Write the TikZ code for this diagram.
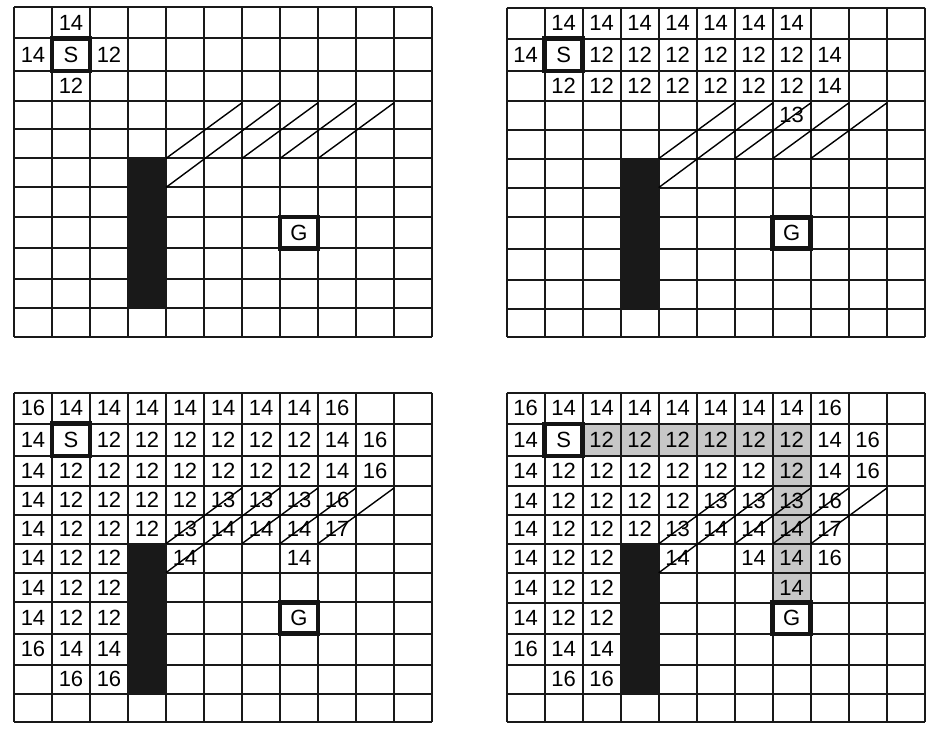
\documentclass[tikz,border=0pt]{standalone}
\usepackage{fontspec}
\setmainfont{Liberation Sans}
\usetikzlibrary{calc}
\def\RL{{0,31,63.4,93.4,122,151,180,209.7,241,272,301,329.4}}
\tikzset{
  gridline/.style={draw=black!90, line width=2pt},
  diagline/.style={draw=black, line width=1.4pt},
  endbox/.style={draw=black!92, line width=4.5pt},
  obst/.style={fill=black!90},
  pathcell/.style={fill=black!22},
  lbl/.style={inner sep=0pt, text=black, font=\fontsize{22}{25}\selectfont},
}
% define the corner and centre coordinates of one grid
\newcommand\setgrid[3]{%
  \begin{scope}[shift={(#2,#3)}]
    \foreach \r in {0,...,11}{%
      \pgfmathsetmacro\yy{\RL[\r]}%
      \foreach \c in {0,...,11}{\coordinate (#1-p\c-\r) at (\c*38,\yy);}%
    }
    \foreach \r in {0,...,10}{%
      \pgfmathtruncatemacro\rn{\r+1}%
      \pgfmathsetmacro\ya{\RL[\r]}%
      \pgfmathsetmacro\yb{\RL[\rn]}%
      \pgfmathsetmacro\ym{(\ya+\yb)/2}%
      \foreach \c in {0,...,10}{\coordinate (#1-\c-\r) at (\c*38+19,\ym);}%
    }
  \end{scope}}
% draw one grid from its coordinates
\newcommand\drawgrid[1]{%
  \foreach \r in {0,...,11}{\draw[gridline] (#1-p0-\r) -- (#1-p11-\r);}
  \foreach \c in {0,...,11}{\draw[gridline] (#1-p\c-0) -- (#1-p\c-11);}
  \fill[obst] ($(#1-p3-5)+(-1,-1)$) rectangle ($(#1-p4-10)+(1,1)$);
  \draw[diagline] (#1-p4-5) -- ($(#1-p6-3)+(0,2)$);
  \draw[diagline] (#1-p4-6) -- ($(#1-p7-3)+(0,2)$);
  \draw[diagline] (#1-p6-5) -- ($(#1-p8-3)+(0,2)$);
  \draw[diagline] (#1-p7-5) -- ($(#1-p9-3)+(0,2)$);
  \draw[diagline] (#1-p8-5) -- ($(#1-p10-3)+(0,2)$);
  \draw[endbox] (#1-p1-1) rectangle (#1-p2-2);
  \draw[endbox] (#1-p7-7) rectangle (#1-p8-8);
  \node[lbl] (#1-S) at (#1-1-1) {S};
  \node[lbl] (#1-G) at (#1-7-7) {G};
}
\newcommand\rowlab[3]{\foreach \c/\t in {#3}{\node[lbl] (#1-t\c-#2) at (#1-\c-#2) {\t};}}
\begin{document}
\begin{tikzpicture}[x=1pt,y=-1pt]
\useasboundingbox (0,0) rectangle (933,735);
\setgrid{ga}{14}{7.4}
\setgrid{gb}{506.7}{7.6}
\setgrid{gc}{14}{392.6}
\setgrid{gd}{506.7}{392.8}

% grid a
\drawgrid{ga}
\rowlab{ga}{0}{1/14}
\rowlab{ga}{1}{0/14,2/12}
\rowlab{ga}{2}{1/12}

% grid b
\drawgrid{gb}
\rowlab{gb}{0}{1/14,2/14,3/14,4/14,5/14,6/14,7/14}
\rowlab{gb}{1}{0/14,2/12,3/12,4/12,5/12,6/12,7/12,8/14}
\rowlab{gb}{2}{1/12,2/12,3/12,4/12,5/12,6/12,7/12,8/14}
\rowlab{gb}{3}{7/13}

% grid c
\drawgrid{gc}
\rowlab{gc}{0}{0/16,1/14,2/14,3/14,4/14,5/14,6/14,7/14,8/16}
\rowlab{gc}{1}{0/14,2/12,3/12,4/12,5/12,6/12,7/12,8/14,9/16}
\rowlab{gc}{2}{0/14,1/12,2/12,3/12,4/12,5/12,6/12,7/12,8/14,9/16}
\rowlab{gc}{3}{0/14,1/12,2/12,3/12,4/12,5/13,6/13,7/13,8/16}
\rowlab{gc}{4}{0/14,1/12,2/12,3/12,4/13,5/14,6/14,7/14,8/17}
\rowlab{gc}{5}{0/14,1/12,2/12,4/14,7/14}
\rowlab{gc}{6}{0/14,1/12,2/12}
\rowlab{gc}{7}{0/14,1/12,2/12}
\rowlab{gc}{8}{0/16,1/14,2/14}
\rowlab{gc}{9}{1/16,2/16}

% grid d
\fill[pathcell] (gd-p2-1) -- (gd-p8-1) -- (gd-p8-7) -- (gd-p7-7) -- (gd-p7-2) -- (gd-p2-2) -- cycle;
\drawgrid{gd}
\rowlab{gd}{0}{0/16,1/14,2/14,3/14,4/14,5/14,6/14,7/14,8/16}
\rowlab{gd}{1}{0/14,2/12,3/12,4/12,5/12,6/12,7/12,8/14,9/16}
\rowlab{gd}{2}{0/14,1/12,2/12,3/12,4/12,5/12,6/12,7/12,8/14,9/16}
\rowlab{gd}{3}{0/14,1/12,2/12,3/12,4/12,5/13,6/13,7/13,8/16}
\rowlab{gd}{4}{0/14,1/12,2/12,3/12,4/13,5/14,6/14,7/14,8/17}
\rowlab{gd}{5}{0/14,1/12,2/12,4/14,6/14,7/14,8/16}
\rowlab{gd}{6}{0/14,1/12,2/12,7/14}
\rowlab{gd}{7}{0/14,1/12,2/12}
\rowlab{gd}{8}{0/16,1/14,2/14}
\rowlab{gd}{9}{1/16,2/16}
\end{tikzpicture}
\end{document}
